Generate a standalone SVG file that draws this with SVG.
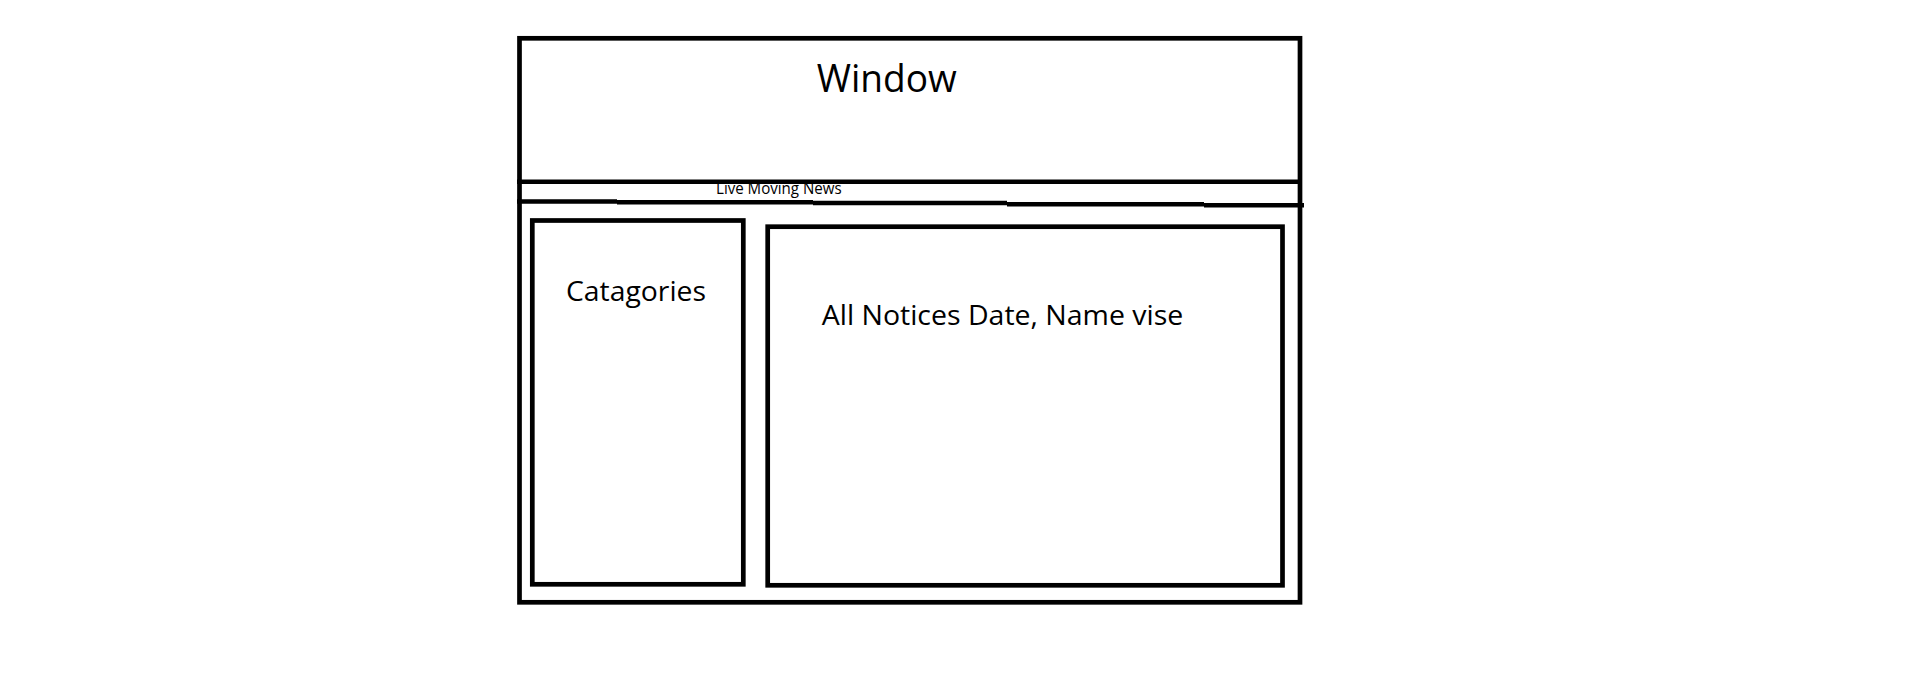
<svg xmlns="http://www.w3.org/2000/svg" width="1913" height="675" viewBox="0 0 1913 675">
<style>
.box{fill:none;stroke:#000;stroke-width:4.7}
.ln{fill:none;stroke:#000;stroke-width:4.5}
text{font-family:"Open Sans","Liberation Sans",sans-serif;fill:#000}
</style>
<rect width="1913" height="675" fill="#fff"/>
<g id="window">
<rect class="box" x="519.5" y="38.3" width="780.5" height="564"/>
<text x="816.7" y="92.3" font-size="38" textLength="140" lengthAdjust="spacingAndGlyphs">Window</text>
</g>
<g id="connectors">
<line class="ln" x1="517" y1="181.7" x2="1302" y2="181.7"/>
<path class="ln" d="M517 201.5H617M617 202.3H813M813 203H1007M1007 204.3H1204M1204 205.3H1304"/>
</g>
<g id="news">
<text x="716" y="194" font-size="15.5" textLength="125.7" lengthAdjust="spacingAndGlyphs">Live Moving News</text>
</g>
<g id="categories">
<rect class="box" x="532.3" y="220.5" width="211" height="363.8"/>
<text x="566" y="300.7" font-size="28" textLength="140" lengthAdjust="spacingAndGlyphs">Catagories</text>
</g>
<g id="notices">
<rect class="box" x="767.7" y="226.7" width="514.8" height="358.6"/>
<text x="821.7" y="325" font-size="28" textLength="361.6" lengthAdjust="spacingAndGlyphs">All Notices Date, Name vise</text>
</g>
</svg>
